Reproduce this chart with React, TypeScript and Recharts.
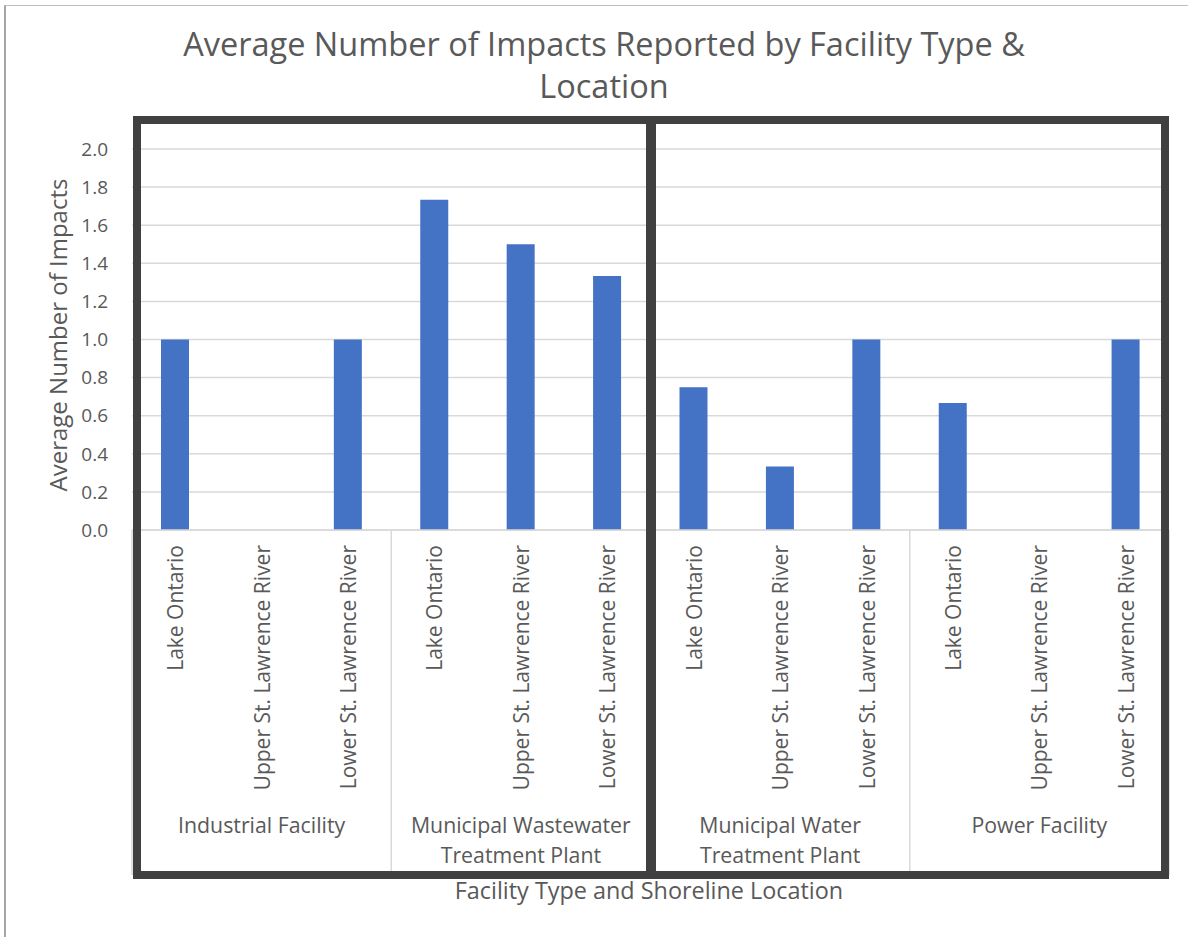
import { BarChart, Bar, XAxis, YAxis, CartesianGrid } from 'recharts';

const LOCATIONS = ['Lake Ontario', 'Upper St. Lawrence River', 'Lower St. Lawrence River'];
const FACILITIES = [
  ['Industrial Facility'],
  ['Municipal Wastewater', 'Treatment Plant'],
  ['Municipal Water', 'Treatment Plant'],
  ['Power Facility'],
];

const industrial = [1.0, 0, 1.0];
const wastewater = [1.733, 1.5, 1.333];
const water = [0.75, 0.333, 1.0];
const power = [0.667, 0, 1.0];

const Y_TICKS = [0, 0.2, 0.4, 0.6, 0.8, 1.0, 1.2, 1.4, 1.6, 1.8, 2.0];

const TEXT = '#595959';
const FONT = '"Open Sans", sans-serif';

const W = 1188;
const H = 937;
const PLOT_LEFT = 132;
const PLOT_RIGHT = 1169;
const BAND = (PLOT_RIGHT - PLOT_LEFT) / 12;

const rows = [industrial, wastewater, water, power].flatMap((vals, g) =>
  vals.map((v, i) => ({
    key: `${g}-${i}`,
    location: LOCATIONS[i],
    group: g,
    pos: i,
    value: v,
  }))
);

function CategoryTick(props: any) {
  const { x, y, index } = props;
  const row = rows[index];
  if (!row) return null;
  const sepTop = y;
  const sepBottom = y + 345;
  return (
    <g>
      <text
        x={x}
        y={y + 15}
        transform={`rotate(-90, ${x}, ${y + 15})`}
        textAnchor="end"
        dominantBaseline="central"
        fill={TEXT}
        fontSize={21}
        fontFamily={FONT}
      >
        {row.location}
      </text>
      {row.pos === 0 && (
        <line x1={x - BAND / 2} x2={x - BAND / 2} y1={sepTop} y2={sepBottom} stroke="#d9d9d9" strokeWidth={1.5} />
      )}
      {index === rows.length - 1 && (
        <line x1={x + BAND / 2} x2={x + BAND / 2} y1={sepTop} y2={sepBottom} stroke="#d9d9d9" strokeWidth={1.5} />
      )}
      {row.pos === 1 &&
        FACILITIES[row.group].map((line, li) => (
          <text
            key={li}
            x={x}
            y={y + 294 + li * 30}
            textAnchor="middle"
            dominantBaseline="central"
            fill={TEXT}
            fontSize={21.3}
            fontFamily={FONT}
          >
            {line}
          </text>
        ))}
    </g>
  );
}

export default function App() {
  return (
    <div style={{ position: 'absolute', left: 0, top: 0, width: W, height: H, background: '#fff', overflow: 'hidden', fontFamily: FONT }}>
      <div
        style={{
          position: 'absolute',
          left: 4,
          top: 5,
          width: W + 20,
          height: H + 20,
          borderLeft: '2px solid #a6a6a6',
          borderTop: '1px solid #bfbfbf',
        }}
      />
      <div
        style={{
          position: 'absolute',
          left: 604 - 500,
          width: 1000,
          top: 23,
          textAlign: 'center',
          color: TEXT,
          fontSize: 32.5,
          lineHeight: '42px',
        }}
      >
        Average Number of Impacts Reported by Facility Type &amp;
        <br />
        Location
      </div>
      <BarChart
        width={W}
        height={H}
        data={rows}
        margin={{ top: 149, right: W - PLOT_RIGHT, left: 0, bottom: 47 }}
        style={{ position: 'absolute', left: 0, top: 0 }}
      >
        <CartesianGrid vertical={false} stroke="#d9d9d9" strokeWidth={1.5} />
        <YAxis
          type="number"
          domain={[0, 2]}
          ticks={Y_TICKS}
          width={PLOT_LEFT}
          axisLine={false}
          tickLine={false}
          tickSize={0}
          tickMargin={24}
          tickFormatter={(v: number) => v.toFixed(1)}
          tick={{ fill: TEXT, fontSize: 19, fontFamily: FONT }}
          interval={0}
        />
        <XAxis
          dataKey="key"
          type="category"
          height={360}
          interval={0}
          tickLine={false}
          tickSize={0}
          tickMargin={0}
          axisLine={{ stroke: '#d9d9d9', strokeWidth: 1.5 }}
          tick={<CategoryTick />}
        />
        <Bar dataKey="value" fill="#4472C4" barSize={28} isAnimationActive={false} />
      </BarChart>
      <div
        style={{
          position: 'absolute',
          left: 58 - 200,
          top: 335 - 15,
          width: 400,
          height: 30,
          lineHeight: '30px',
          textAlign: 'center',
          transform: 'rotate(-90deg)',
          color: TEXT,
          fontSize: 24,
        }}
      >
        Average Number of Impacts
      </div>
      <div
        style={{
          position: 'absolute',
          left: 649 - 300,
          top: 890 - 15,
          width: 600,
          height: 30,
          lineHeight: '30px',
          textAlign: 'center',
          color: TEXT,
          fontSize: 23.4,
        }}
      >
        Facility Type and Shoreline Location
      </div>
      <div
        style={{
          position: 'absolute',
          left: 133,
          top: 116,
          width: 523,
          height: 763,
          border: '8px solid #404040',
          boxSizing: 'border-box',
          pointerEvents: 'none',
        }}
      />
      <div
        style={{
          position: 'absolute',
          left: 646,
          top: 116,
          width: 523,
          height: 763,
          border: '8px solid #404040',
          boxSizing: 'border-box',
          pointerEvents: 'none',
        }}
      />
    </div>
  );
}
